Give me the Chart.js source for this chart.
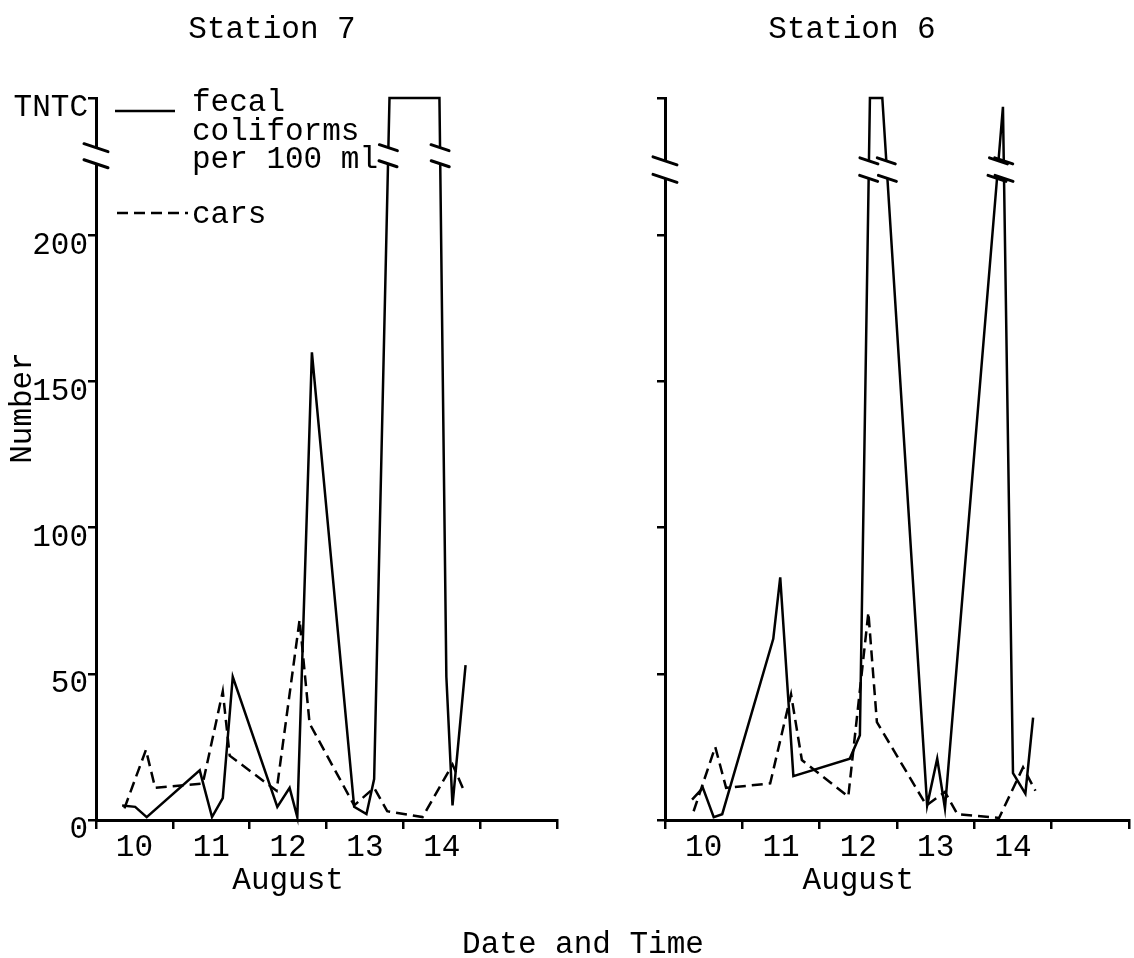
<!DOCTYPE html>
<html><head><meta charset="utf-8">
<script src="https://cdn.jsdelivr.net/npm/chart.js@4.4.0/dist/chart.umd.min.js"></script>
<style>
html,body{margin:0;padding:0;background:#fff;}
#wrap{position:relative;width:1134px;height:958px;overflow:hidden;background:#fff;}
canvas{position:absolute;top:0;}
#c7{left:0;} #c6{left:567px;}
#xlab{position:absolute;left:383px;width:400px;top:929px;text-align:center;font-family:"Liberation Mono","DejaVu Sans Mono",monospace;font-size:31px;line-height:31px;color:#000;white-space:nowrap;}
</style></head><body>
<div id="wrap">
<canvas id="c7" width="567" height="958" style="width:567px;height:958px"></canvas>
<canvas id="c6" width="567" height="958" style="width:567px;height:958px"></canvas>
<div id="xlab">Date and Time</div>
</div>
<script>
const TNTC = 247;
const dayTicks = [10, 11, 12, 13, 14, 15, 16];
const dayLabels = ['10', '11', '12', '13', '14'];
const yTickValues = [0, 50, 100, 150, 200, TNTC];
const yTickLabels = ['0', '50', '100', '150', '200', 'TNTC'];
const legendFecalLines = ['fecal', 'coliforms', 'per 100 ml'];
const legendCarsLabel = 'cars';

// Station 7
const st7FecalX = [10.34, 10.51, 10.66, 11.35, 11.51, 11.65, 11.78, 12.36, 12.52, 12.62, 12.81, 13.36, 13.52, 13.62, 13.82, 14.47, 14.56, 14.64, 14.81];
const st7FecalY = [5, 4.5, 1, 17, 1, 7.5, 49, 4.5, 11, 1, 160, 4.5, 2, 14, TNTC, TNTC, 49, 5, 53];
const st7CarsX = [10.37, 10.65, 10.77, 11.39, 11.65, 11.74, 12.35, 12.65, 12.78, 13.36, 13.62, 13.79, 14.25, 14.64, 14.79];
const st7CarsY = [4, 24, 11, 12.5, 44, 22, 10, 68.5, 33, 5, 11, 3, 1, 19, 10];

// Station 6
const st6FecalX = [10.35, 10.49, 10.63, 10.74, 11.40, 11.49, 11.66, 12.39, 12.52, 12.65, 12.81, 13.39, 13.52, 13.62, 14.37, 14.50, 14.66, 14.76];
const st6FecalY = [7, 11, 1, 2, 62, 83, 15, 21, 29, TNTC, TNTC, 5, 21, 4, 244, 16, 9, 35];
const st6CarsX = [10.37, 10.65, 10.79, 11.36, 11.63, 11.77, 12.37, 12.63, 12.74, 13.38, 13.62, 13.78, 14.32, 14.63, 14.79];
const st6CarsY = [3, 25, 11, 12.5, 43, 20.5, 8, 71, 33.5, 5, 9.6, 2, 0.7, 18, 10];

const FONT = '"Liberation Mono", "DejaVu Sans Mono", monospace';
const FSIZE = 31;

const xTickValues = [];
dayTicks.forEach((d, i) => { xTickValues.push(d); if (i < dayTicks.length - 1) xTickValues.push(d + 0.5); });
function xLabel(v) {
  if (Math.abs(v % 1 - 0.5) < 1e-6) { const idx = Math.floor(v) - dayTicks[0]; return dayLabels[idx] || ''; }
  return '';
}
const pts = (xs, ys) => xs.map((x, i) => ({ x: x, y: ys[i] }));

const breakPlugin = {
  id: 'axisBreak',
  afterDatasetsDraw(chart, args, opts) {
    const { ctx, chartArea, scales } = chart;
    const y = scales.y;
    const yHi = y.getPixelForValue(opts.hi), yLo = y.getPixelForValue(opts.lo);
    ctx.save();
    ctx.fillStyle = '#fff';
    ctx.fillRect(chartArea.left - 4, yHi, chartArea.right - chartArea.left + 8, yLo - yHi);
    ctx.strokeStyle = '#000'; ctx.lineWidth = 3; ctx.lineCap = 'round'; ctx.setLineDash([]);
    const slash = (cx, cy, hw, hd) => { ctx.beginPath(); ctx.moveTo(cx - hw, cy - hd); ctx.lineTo(cx + hw, cy + hd); ctx.stroke(); };
    slash(chartArea.left, yHi, 12, 4); slash(chartArea.left, yLo, 12, 4);
    chart.data.datasets.forEach((ds, di) => {
      const el = chart.getDatasetMeta(di).data;
      for (let i = 1; i < el.length; i++) {
        const a = el[i - 1], b = el[i];
        [yHi, yLo].forEach(yy => {
          if ((a.y - yy) * (b.y - yy) < 0) {
            const t = (yy - a.y) / (b.y - a.y);
            slash(a.x + t * (b.x - a.x), yy, 9, 3);
          }
        });
      }
    });
    ctx.restore();
  }
};

const decorPlugin = {
  id: 'decor',
  afterDraw(chart, args, o) {
    const { ctx } = chart;
    const x = chart.scales.x;
    ctx.save();
    ctx.fillStyle = '#000'; ctx.strokeStyle = '#000';
    ctx.font = FSIZE + 'px ' + FONT;
    ctx.textAlign = 'center'; ctx.textBaseline = 'alphabetic';
    ctx.fillText(o.title, o.titleX, 38);
    ctx.fillText('August', x.getPixelForValue(12.5), 889);
    if (o.showNumber) {
      ctx.save(); ctx.translate(23, 408); ctx.rotate(-Math.PI / 2);
      ctx.textBaseline = 'middle'; ctx.fillText('Number', 0, 0); ctx.restore();
    }
    if (o.legend) {
      ctx.textAlign = 'left';
      ctx.lineWidth = 2.5; ctx.setLineDash([]);
      ctx.beginPath(); ctx.moveTo(115, 111); ctx.lineTo(175, 111); ctx.stroke();
      ctx.fillText(legendFecalLines[0], 192, 111);
      ctx.fillText(legendFecalLines[1], 192, 140);
      ctx.fillText(legendFecalLines[2], 192, 168);
      ctx.setLineDash([11, 6]);
      ctx.beginPath(); ctx.moveTo(117, 213); ctx.lineTo(188, 213); ctx.stroke();
      ctx.setLineDash([]);
      ctx.fillText(legendCarsLabel, 192, 223);
    }
    ctx.restore();
  }
};

function makeChart(id, p) {
  return new Chart(document.getElementById(id), {
    type: 'line',
    data: {
      datasets: [
        { label: legendFecalLines.join(' '), data: pts(p.fx, p.fy), borderColor: '#000', borderWidth: 2.5, pointRadius: 0, tension: 0, fill: false, clip: false },
        { label: legendCarsLabel, data: pts(p.cx, p.cy), borderColor: '#000', borderWidth: 2.5, borderDash: [11, 6], pointRadius: 0, tension: 0, fill: false, clip: false }
      ]
    },
    options: {
      responsive: false, animation: false, events: [],
      layout: { padding: { top: 98, right: p.padRight, bottom: 0, left: 0 } },
      plugins: {
        legend: { display: false }, tooltip: { enabled: false }, title: { display: false },
        axisBreak: { hi: p.breakHi, lo: p.breakLo },
        decor: { title: p.title, titleX: p.titleX, showNumber: p.showNumber, legend: p.legend }
      },
      scales: {
        x: {
          type: 'linear', min: dayTicks[0], max: dayTicks[dayTicks.length - 1],
          afterBuildTicks: s => { s.ticks = xTickValues.map(v => ({ value: v })); },
          afterFit: s => { s.height = 138; },
          border: { display: true, color: '#000', width: 3 },
          grid: { drawOnChartArea: false, drawTicks: true, tickLength: 9, lineWidth: 2.5,
                  tickColor: c => (c.tick && Number.isInteger(c.tick.value)) ? '#000' : 'rgba(0,0,0,0)' },
          ticks: { autoSkip: false, maxRotation: 0, minRotation: 0, padding: 0, color: '#000',
                   font: { family: FONT, size: FSIZE }, callback: v => xLabel(v) }
        },
        y: {
          type: 'linear', min: 0, max: TNTC,
          afterBuildTicks: s => { s.ticks = yTickValues.map(v => ({ value: v })); },
          afterFit: s => { s.width = p.yWidth; },
          border: { display: true, color: '#000', width: 3 },
          grid: { drawOnChartArea: false, drawTicks: true, tickLength: 8, lineWidth: 2.5, tickColor: '#000' },
          ticks: { padding: 0, labelOffset: 10, color: '#000', font: { family: FONT, size: FSIZE },
                   callback: v => p.showYLabels ? (yTickLabels[yTickValues.indexOf(v)] || '') : '' }
        }
      }
    },
    plugins: [breakPlugin, decorPlugin]
  });
}

makeChart('c7', { fx: st7FecalX, fy: st7FecalY, cx: st7CarsX, cy: st7CarsY, title: 'Station 7', titleX: 272,
  showNumber: true, legend: true, showYLabels: true, yWidth: 96, padRight: 10, breakHi: 230, breakLo: 224.5 });
makeChart('c6', { fx: st6FecalX, fy: st6FecalY, cx: st6CarsX, cy: st6CarsY, title: 'Station 6', titleX: 285,
  showNumber: false, legend: false, showYLabels: false, yWidth: 98, padRight: 5, breakHi: 225.5, breakLo: 219.5 });
</script>
</body></html>
